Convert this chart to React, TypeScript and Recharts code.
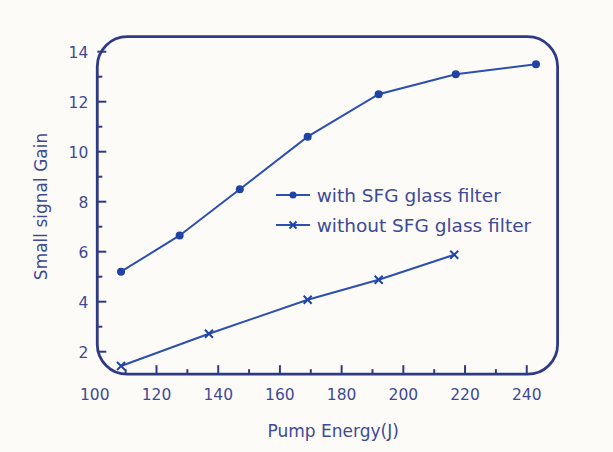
import { LineChart, Line, XAxis, YAxis, ReferenceArea, Legend } from "recharts";

// pump energy (J) / small signal gain
const energyWith = [108.5, 127.5, 147, 169, 192, 217, 243];
const gainWith = [5.2, 6.65, 8.5, 10.6, 12.3, 13.1, 13.5];
const energyWithout = [108.5, 137, 169, 192, 216.5];
const gainWithout = [1.43, 2.72, 4.08, 4.88, 5.88];

const seriesNames = ["with SFG glass filter", "without SFG glass filter"];

const xTicks = [100, 110, 120, 130, 140, 150, 160, 170, 180, 190, 200, 210, 220, 230, 240];
const yTicks = [2, 3, 4, 5, 6, 7, 8, 9, 10, 11, 12, 13, 14];

const X_DOMAIN: [number, number] = [100, 250];
const Y_DOMAIN: [number, number] = [1.1, 14.6];
const FRAME_X0 = 100.8;

const FONT = "'DejaVu Sans', sans-serif";
const TEXT = "#3f4a94";
const FRAME = "#2f3a84";
const LINE = "#2d4fae";
const MARK = "#1f44a6";

const withData = energyWith.map((energy, i) => ({ energy, gain: gainWith[i] }));
const withoutData = energyWithout.map((energy, i) => ({ energy, gain: gainWithout[i] }));

function XTick({ x, y, payload }: any) {
  const v = payload.value;
  const major = v % 20 === 0;
  return (
    <g>
      {v > X_DOMAIN[0] && (
        <line x1={x} x2={x} y1={y} y2={y - (major ? 9 : 5)} stroke={FRAME} strokeWidth={2} />
      )}
      {major && (
        <text x={x} y={y + 20} dy="0.35em" textAnchor="middle" fontSize={15.5} fill={TEXT} fontFamily={FONT}>
          {v}
        </text>
      )}
    </g>
  );
}

function YTick({ x, y, payload }: any) {
  const v = payload.value;
  const major = v % 2 === 0;
  const edge = x + 2.5; // frame sits slightly inside the plot edge
  return (
    <g>
      <line x1={edge} x2={edge + (major ? 9 : 5)} y1={y} y2={y} stroke={FRAME} strokeWidth={2} />
      {major && (
        <text x={x - 6.5} y={y + 1} dy="0.35em" textAnchor="end" fontSize={15.5} fill={TEXT} fontFamily={FONT}>
          {v}
        </text>
      )}
    </g>
  );
}

function CircleDot({ cx, cy, index }: any) {
  return <circle key={`c${index}`} cx={cx} cy={cy} r={4} fill={MARK} />;
}

function CrossDot({ cx, cy, index }: any) {
  const s = 4;
  return (
    <path
      key={`x${index}`}
      d={`M${cx - s},${cy - s}L${cx + s},${cy + s}M${cx - s},${cy + s}L${cx + s},${cy - s}`}
      stroke={MARK}
      strokeWidth={2}
    />
  );
}

function LegendBox() {
  return (
    <div style={{ fontFamily: FONT, fontSize: 18.5, color: TEXT }}>
      {seriesNames.map((name, i) => (
        <div key={name} style={{ display: "flex", alignItems: "center", height: 30, whiteSpace: "nowrap" }}>
          <svg width={34} height={14} style={{ marginRight: 6.7, flex: "none" }}>
            <line x1={0} x2={34} y1={7} y2={7} stroke={LINE} strokeWidth={2} />
            {i === 0 ? (
              <circle cx={17} cy={7} r={3.5} fill={MARK} />
            ) : (
              <path d="M13.5,3.5L20.5,10.5M13.5,10.5L20.5,3.5" stroke={MARK} strokeWidth={2} />
            )}
          </svg>
          <span>{name}</span>
        </div>
      ))}
    </div>
  );
}

export default function App() {
  return (
    <div style={{ position: "absolute", left: 0, top: 0, width: 613, height: 452, background: "#fcfbf8" }}>
      <LineChart width={613} height={452} margin={{ top: 36.7, right: 55.4, left: 34.8, bottom: 27.8 }}>
        <XAxis
          type="number"
          dataKey="energy"
          domain={X_DOMAIN}
          ticks={xTicks}
          interval={0}
          allowDataOverflow
          axisLine={false}
          tickLine={false}
          tickSize={0}
          tickMargin={0}
          height={50}
          tick={<XTick />}
          label={{
            content: ({ viewBox }: any) => (
              <text
                x={viewBox.x + viewBox.width / 2 + 7}
                y={viewBox.y + 62.5}
                textAnchor="middle"
                fontSize={17}
                fill={TEXT}
                fontFamily={FONT}
              >
                Pump Energy(J)
              </text>
            ),
          }}
        />
        <YAxis
          type="number"
          domain={Y_DOMAIN}
          ticks={yTicks}
          interval={0}
          allowDataOverflow
          axisLine={false}
          tickLine={false}
          tickSize={0}
          tickMargin={0}
          width={60}
          tick={<YTick />}
          label={{
            content: ({ viewBox }: any) => {
              const cx = viewBox.x + 6.2;
              const cy = viewBox.y + viewBox.height / 2 + 1;
              return (
                <text
                  x={cx}
                  y={cy}
                  dy="0.35em"
                  textAnchor="middle"
                  transform={`rotate(-90, ${cx}, ${cy})`}
                  fontSize={17}
                  fill={TEXT}
                  fontFamily={FONT}
                >
                  Small signal Gain
                </text>
              );
            },
          }}
        />
        <ReferenceArea
          x1={FRAME_X0}
          x2={X_DOMAIN[1]}
          y1={Y_DOMAIN[0]}
          y2={Y_DOMAIN[1]}
          shape={(p: any) => (
            <rect x={p.x} y={p.y} width={p.width} height={p.height} rx={30} ry={30} fill="none" stroke={FRAME} strokeWidth={2.8} />
          )}
        />
        <Line
          data={withData}
          dataKey="gain"
          name={seriesNames[0]}
          type="linear"
          stroke={LINE}
          strokeWidth={2}
          dot={CircleDot}
          activeDot={false}
          isAnimationActive={false}
        />
        <Line
          data={withoutData}
          dataKey="gain"
          name={seriesNames[1]}
          type="linear"
          stroke={LINE}
          strokeWidth={2}
          dot={CrossDot}
          activeDot={false}
          isAnimationActive={false}
        />
        <Legend
          layout="vertical"
          align="center"
          verticalAlign="middle"
          wrapperStyle={{ left: 276, top: 180, width: "auto" }}
          content={() => <LegendBox />}
        />
      </LineChart>
    </div>
  );
}
